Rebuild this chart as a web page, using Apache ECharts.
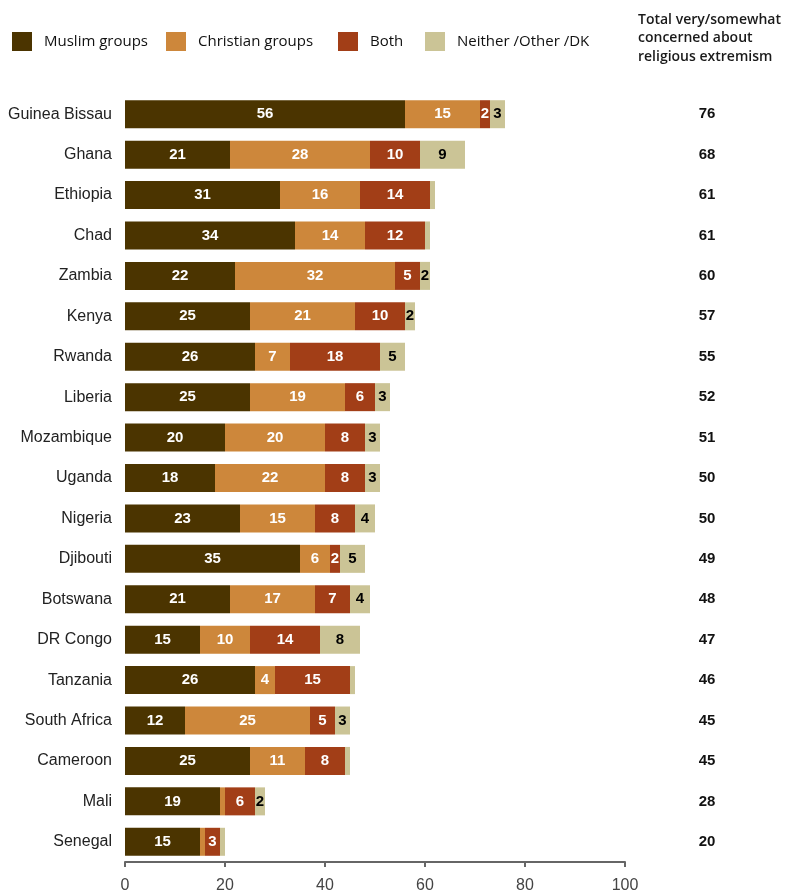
<!DOCTYPE html>
<html>
<head>
<meta charset="utf-8">
<script src="https://cdn.jsdelivr.net/npm/echarts@6/dist/echarts.min.js"></script>
<style>html,body{margin:0;padding:0;background:#fff}#c{width:798px;height:894px}</style>
</head>
<body>
<div id="c"></div>
<script>
const categories = ['Guinea Bissau','Ghana','Ethiopia','Chad','Zambia','Kenya','Rwanda','Liberia','Mozambique','Uganda','Nigeria','Djibouti','Botswana','DR Congo','Tanzania','South Africa','Cameroon','Mali','Senegal'];
const muslim    = [56,21,31,34,22,25,26,25,20,18,23,35,21,15,26,12,25,19,15];
const christian = [15,28,16,14,32,21,7,19,20,22,15,6,17,10,4,25,11,1,1];
const both      = [2,10,14,12,5,10,18,6,8,8,8,2,7,14,15,5,8,6,3];
const neither   = [3,9,1,1,2,2,5,3,3,3,4,5,4,8,1,3,1,2,1];
const totals    = [76,68,61,61,60,57,55,52,51,50,50,49,48,47,46,45,45,28,20];
const seriesNames = ['Muslim groups','Christian groups','Both','Neither /Other /DK'];
const xTicks = [0,20,40,60,80,100];
const headerLines = ['Total very/somewhat','concerned about','religious extremism'];

const colors = ['#4b3400','#cd873b','#a23e17','#cbc496'];
const labelColors = ['#fff','#fff','#fff','#000'];
const seriesData = [muslim, christian, both, neither];
const legendX = [7, 161, 333, 420];

const chart = echarts.init(document.getElementById('c'));
const option = {
  animation: false,
  color: colors,
  textStyle: {fontFamily: 'Liberation Sans, Arial, sans-serif'},
  legend: seriesNames.map((n, i) => ({
    data: [n], left: legendX[i], top: 27,
    itemWidth: 20, itemHeight: 19, icon: 'rect',
    textStyle: {fontFamily: 'Open Sans', fontSize: 15, color: '#111', padding: [0,0,0,7]}
  })),
  grid: {left: 125, width: 500, top: 94, bottom: 31},
  xAxis: {
    type: 'value', min: 0, max: 100, interval: 20,
    axisLine: {show: true, lineStyle: {color: '#666', width: 2}},
    axisTick: {show: true, length: 5, lineStyle: {color: '#666', width: 2}},
    splitLine: {show: false},
    axisLabel: {color: '#444', fontSize: 16, margin: 16,
      formatter: v => xTicks.includes(v) ? String(v) : ''}
  },
  yAxis: [
    {type: 'category', data: categories, inverse: true,
      axisLine: {show: false}, axisTick: {show: false},
      axisLabel: {color: '#222', fontSize: 16, margin: 13}},
    {type: 'category', data: totals.map(String), inverse: true, position: 'right',
      axisLine: {show: false}, axisTick: {show: false},
      axisLabel: {color: '#111', fontSize: 15, fontWeight: 'bold', margin: 82, align: 'center',
        padding: [3,0,0,0]}}
  ],
  series: seriesData.map((d, i) => ({
    name: seriesNames[i], type: 'bar', stack: 'total', barWidth: 28,
    data: d,
    itemStyle: {color: colors[i]},
    label: {show: true, position: 'inside', color: labelColors[i],
      fontSize: 15, fontWeight: 'bold',
      formatter: p => p.value >= 2 ? String(p.value) : ''}
  })),
  graphic: headerLines.map((t, i) => ({
    type: 'text', left: 638, top: 13 + i * 18.5,
    style: {text: t, font: '600 14px "Open Sans"', fill: '#1a1a1a'}
  }))
};
chart.setOption(option);
</script>
</body>
</html>
